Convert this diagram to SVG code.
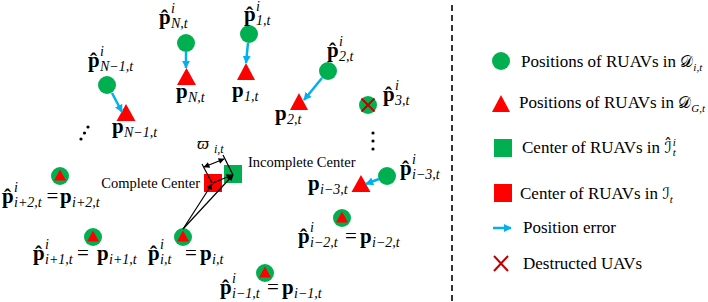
<svg xmlns="http://www.w3.org/2000/svg" width="708" height="302" viewBox="0 0 708 302">
<defs>
<style>
.b{font-family:"Liberation Serif","DejaVu Serif",serif;font-weight:bold;font-size:21px;fill:#000}
.s{font-family:"Liberation Serif","DejaVu Serif",serif;font-style:italic;font-size:14px;fill:#000}
.eq{font-family:"Liberation Serif","DejaVu Serif",serif;font-size:21px;fill:#000}
.lbl{font-family:"Liberation Serif",serif;font-size:14.5px;fill:#000}
.lg{font-family:"Liberation Serif",serif;font-size:17px;fill:#000}
.cal{font-family:"DejaVu Serif","DejaVu Sans","Liberation Serif",serif;font-size:16px}
.ls{font-family:"Liberation Serif",serif;font-style:italic;font-size:11px}
.gc{fill:#00B050}
.rt{fill:#FF0000}
.ba{stroke:#00B0F0;stroke-width:2.5;fill:none}
.ka{stroke:#000;stroke-width:1.2;fill:none}
.xx{stroke:#C00000;stroke-width:2;fill:none}
.dot{fill:#000}
</style>
<marker id="mb" viewBox="0 0 10 10" refX="9" refY="5" markerUnits="userSpaceOnUse" markerWidth="8" markerHeight="8" orient="auto">
<path d="M0,0 L10,5 L0,10 z" fill="#00B0F0"/>
</marker>
<marker id="mk" viewBox="0 0 10 10" refX="9" refY="5" markerUnits="userSpaceOnUse" markerWidth="7" markerHeight="6" orient="auto-start-reverse">
<path d="M0,0 L10,5 L0,10 z" fill="#000"/>
</marker>
</defs>
<rect width="708" height="302" fill="#fff"/>

<line x1="452" y1="5" x2="452" y2="302" stroke="#000" stroke-width="1.6" stroke-dasharray="6,4"/>

<g id="node-N">
<circle class="gc" cx="186" cy="43" r="9"/>
<polygon class="rt" points="186.5,68 177,85 196,85"/>
<text class="b" x="159" y="24">p̂</text><text class="s" x="171" y="13">i</text><text class="s" x="171" y="28">N,t</text>
<text class="b" x="176" y="98">p</text><text class="s" x="188" y="102">N,t</text>
</g>

<g id="node-N-1">
<circle class="gc" cx="107" cy="85" r="9"/>
<polygon class="rt" points="126,104 116.5,121 135.5,121"/>
<text class="b" x="88" y="67">p̂</text><text class="s" x="100" y="56">i</text><text class="s" x="100" y="71">N−1,t</text>
<text class="b" x="112" y="133">p</text><text class="s" x="124" y="137">N−1,t</text>
</g>

<g id="dots-left">
<circle class="dot" cx="81" cy="139" r="1.6"/>
<circle class="dot" cx="84.5" cy="133" r="1.6"/>
<circle class="dot" cx="88" cy="127" r="1.6"/>
</g>

<g id="node-1">
<circle class="gc" cx="249" cy="34" r="9"/>
<polygon class="rt" points="246,63 237,80 255,80"/>
<text class="b" x="244" y="21">p̂</text><text class="s" x="256" y="11">i</text><text class="s" x="256" y="25">1,t</text>
<text class="b" x="232" y="97">p</text><text class="s" x="244" y="101">1,t</text>
</g>

<g id="node-2">
<circle class="gc" cx="328" cy="71" r="9"/>
<polygon class="rt" points="299,93 290,110 308,110"/>
<text class="b" x="327" y="57">p̂</text><text class="s" x="339" y="46">i</text><text class="s" x="339" y="61">2,t</text>
<text class="b" x="275" y="120">p</text><text class="s" x="287" y="124">2,t</text>
</g>

<g id="node-3">
<circle class="gc" cx="368" cy="105" r="9"/>
<line class="xx" x1="361.5" y1="98.5" x2="374.5" y2="111.5"/>
<line class="xx" x1="374.5" y1="98.5" x2="361.5" y2="111.5"/>
<text class="b" x="383" y="101">p̂</text><text class="s" x="395" y="90">i</text><text class="s" x="395" y="105">3,t</text>
</g>

<g id="dots-right">
<circle class="dot" cx="373" cy="133" r="1.6"/>
<circle class="dot" cx="373" cy="141" r="1.6"/>
<circle class="dot" cx="373" cy="149" r="1.6"/>
</g>

<g id="node-i-3">
<circle class="gc" cx="387" cy="176" r="9"/>
<polygon class="rt" points="361,175 351.5,192 370.5,192"/>
<text class="b" x="400" y="175">p̂</text><text class="s" x="412" y="164">i</text><text class="s" x="412" y="179">i−3,t</text>
<text class="b" x="308" y="190">p</text><text class="s" x="320" y="194">i−3,t</text>
</g>

<g id="node-i-2">
<circle class="gc" cx="342" cy="218" r="9"/>
<polygon class="rt" points="342,211.5 336,222.5 348,222.5"/>
<text class="b" x="298" y="243">p̂</text><text class="s" x="310" y="232">i</text><text class="s" x="310" y="247">i−2,t</text>
<text class="eq" x="345" y="243">=</text>
<text class="b" x="360" y="243">p</text><text class="s" x="372" y="247">i−2,t</text>
</g>

<g id="node-i-1">
<circle class="gc" cx="265" cy="273" r="9"/>
<polygon class="rt" points="265,266.5 259,277.5 271,277.5"/>
<text class="b" x="220" y="294">p̂</text><text class="s" x="232" y="283">i</text><text class="s" x="232" y="298">i−1,t</text>
<text class="eq" x="267" y="294">=</text>
<text class="b" x="282" y="294">p</text><text class="s" x="294" y="298">i−1,t</text>
</g>

<g id="node-i+2">
<circle class="gc" cx="60" cy="176" r="9"/>
<polygon class="rt" points="60,169.5 54,180.5 66,180.5"/>
<text class="b" x="2" y="203">p̂</text><text class="s" x="14" y="192">i</text><text class="s" x="14" y="207">i+2,t</text>
<text class="eq" x="46.5" y="203">=</text>
<text class="b" x="60" y="203">p</text><text class="s" x="72" y="207">i+2,t</text>
</g>

<g id="node-i+1">
<circle class="gc" cx="93" cy="237" r="9"/>
<polygon class="rt" points="93,230.5 87,241.5 99,241.5"/>
<text class="b" x="33" y="260">p̂</text><text class="s" x="45" y="249">i</text><text class="s" x="45" y="264">i+1,t</text>
<text class="eq" x="77" y="260">=</text>
<text class="b" x="97" y="260">p</text><text class="s" x="109" y="264">i+1,t</text>
</g>

<g id="node-i">
<circle class="gc" cx="183" cy="237" r="9"/>
<polygon class="rt" points="183,230.5 177,241.5 189,241.5"/>
<text class="b" x="148" y="260">p̂</text><text class="s" x="160" y="249">i</text><text class="s" x="160" y="264">i,t</text>
<text class="eq" x="185" y="260">=</text>
<text class="b" x="200" y="260">p</text><text class="s" x="212" y="264">i,t</text>
</g>

<g id="complete-center">
<rect class="rt" x="204" y="174" width="18" height="18"/>
<text class="lbl" x="200" y="188" text-anchor="end">Complete Center</text>
</g>

<g id="incomplete-center">
<rect class="gc" x="224" y="165" width="18" height="18"/>
<text class="lbl" x="248" y="167">Incomplete Center</text>
</g>

<g id="varpi-label">
<text x="197" y="149" style="font-family:'Liberation Serif','DejaVu Serif',serif;font-style:italic;font-size:17px">ϖ</text>
<text x="214" y="153" style="font-family:'Liberation Serif','DejaVu Serif',serif;font-style:italic;font-size:12px">i,t</text>
</g>

<g id="connectors">
<line class="ba" x1="186" y1="52" x2="186" y2="68" marker-end="url(#mb)"/>
<line class="ba" x1="112" y1="93" x2="122" y2="112" marker-end="url(#mb)"/>
<line class="ba" x1="248" y1="43" x2="246" y2="63" marker-end="url(#mb)"/>
<line class="ba" x1="322" y1="78" x2="304" y2="100" marker-end="url(#mb)"/>
<line class="ba" x1="379" y1="179" x2="366" y2="184" marker-end="url(#mb)"/>
<line class="ka" x1="183" y1="229" x2="212" y2="184" marker-end="url(#mk)"/>
<line class="ka" x1="183" y1="229" x2="233" y2="175" marker-end="url(#mk)"/>
<line class="ka" x1="213" y1="183" x2="232" y2="175" marker-end="url(#mk)"/>
<line class="ka" x1="212" y1="183" x2="202" y2="164"/>
<line class="ka" x1="233" y1="175" x2="223" y2="155"/>
<line class="ka" x1="204" y1="167" x2="224" y2="159" marker-start="url(#mk)" marker-end="url(#mk)"/>
</g>

<g id="legend">
<g id="legend-circle">
<circle class="gc" cx="501" cy="61" r="9"/>
<text class="lg" x="521" y="67">Positions of RUAVs in <tspan class="cal">𝒟</tspan><tspan class="ls" dy="4">i,t</tspan></text>
</g>
<g id="legend-triangle">
<polygon class="rt" points="501,95 492,112 510,112"/>
<text class="lg" x="519" y="108">Positions of RUAVs in <tspan class="cal">𝒟</tspan><tspan class="ls" dy="4">G,t</tspan></text>
</g>
<g id="legend-green-square">
<rect class="gc" x="494" y="139" width="18" height="18"/>
<text class="lg" x="522" y="153">Center of RUAVs in <tspan class="cal">ℐ̂</tspan><tspan class="ls" dx="1" dy="-7">i</tspan><tspan class="ls" dx="-3.1" dy="10">t</tspan></text>
</g>
<g id="legend-red-square">
<rect class="rt" x="494" y="184" width="18" height="18"/>
<text class="lg" x="520" y="199">Center of RUAVs in <tspan class="cal">ℐ</tspan><tspan class="ls" dy="4">t</tspan></text>
</g>
<g id="legend-arrow">
<line class="ba" x1="493" y1="228" x2="511" y2="228" stroke-width="2.2" marker-end="url(#mb)"/>
<text class="lg" x="523" y="233">Position error</text>
</g>
<g id="legend-x">
<line class="xx" x1="494" y1="256" x2="508" y2="271"/>
<line class="xx" x1="508" y1="256" x2="494" y2="271"/>
<text class="lg" x="523" y="269">Destructed UAVs</text>
</g>
</g>
</svg>
